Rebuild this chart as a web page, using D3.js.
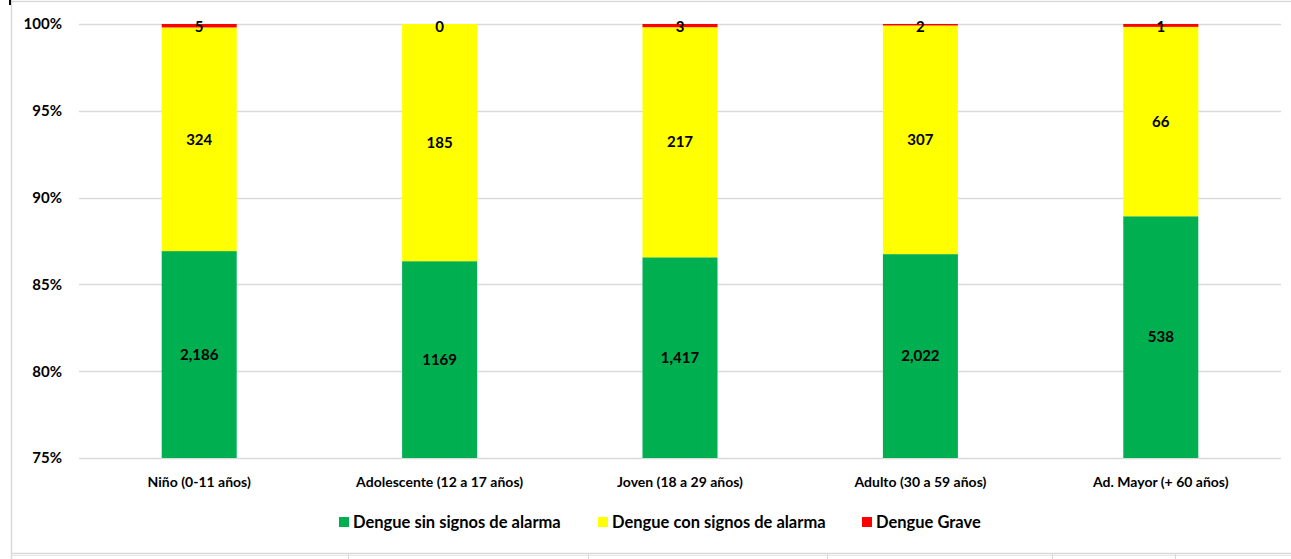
<!DOCTYPE html>
<html><head><meta charset="utf-8">
<script src="https://cdn.jsdelivr.net/npm/d3@7"></script>
<style>body{margin:0;background:#fff;} svg{display:block;} text{font-family:Lato,"Open Sans",sans-serif;}</style>
</head><body>
<script>
const categories = ["Niño (0-11 años)","Adolescente (12 a 17 años)","Joven (18 a 29 años)","Adulto (30 a 59 años)","Ad. Mayor (+ 60 años)"];
const sinSignos = [2186,1169,1417,2022,538];
const conSignos = [324,185,217,307,66];
const grave = [5,0,3,2,1];
const sinSignosLabels = ["2,186","1169","1,417","2,022","538"];
const seriesNames = ["Dengue sin signos de alarma","Dengue con signos de alarma","Dengue Grave"];
const colors = ["#00B050","#FFFF00","#FF0000"];
const yTicks = [0.75,0.80,0.85,0.90,0.95,1.00];

(function(){
const W=1291,H=559;
const svg=d3.select("body").append("svg").attr("width",W).attr("height",H);
svg.append("line").attr("x1",11).attr("x2",W).attr("y1",1.5).attr("y2",1.5).attr("stroke","#d9d9d9").attr("stroke-width",1.5);
svg.append("line").attr("x1",11.5).attr("x2",11.5).attr("y1",0).attr("y2",H).attr("stroke","#d9d9d9").attr("stroke-width",1.5);
svg.append("line").attr("x1",11).attr("x2",W).attr("y1",553.5).attr("y2",553.5).attr("stroke","#d9d9d9").attr("stroke-width",1.5);
svg.append("line").attr("x1",11).attr("x2",W).attr("y1",555.5).attr("y2",555.5).attr("stroke","#e6e6e6");
[348,588,827,1052,1175].forEach(x=>svg.append("line").attr("x1",x+0.5).attr("x2",x+0.5).attr("y1",554).attr("y2",H).attr("stroke","#d9d9d9"));
svg.append("rect").attr("x",9).attr("y",0).attr("width",2).attr("height",5).attr("fill","#000");

const pL=79,pR=1281,pT=24,pB=458;
const x=d3.scaleBand().domain(categories).range([pL,pR]).paddingInner(0.688).paddingOuter(0.344);
const y=d3.scaleLinear().domain([0.75,1]).range([pB,pT]);

svg.append("g").selectAll("line").data(yTicks).join("line")
 .attr("x1",pL).attr("x2",pR).attr("y1",d=>Math.round(y(d))+0.5).attr("y2",d=>Math.round(y(d))+0.5)
 .attr("stroke","#d9d9d9").attr("stroke-width",1.5);

const yAxis=d3.axisLeft(y).tickValues(yTicks).tickFormat(d3.format(".0%")).tickSize(0).tickPadding(0);
const ga=svg.append("g").attr("transform",`translate(62,0)`).call(yAxis);
ga.select(".domain").remove();
ga.selectAll("text").attr("font-size",15).attr("font-weight","bold").attr("fill","#000").attr("font-family","Lato,'Open Sans',sans-serif");

const rows=categories.map((c,i)=>{const t=sinSignos[i]+conSignos[i]+grave[i];return {c,i,vals:[sinSignos[i],conSignos[i],grave[i]],t};});
const labelFor=(s,r)=> s===0?sinSignosLabels[r.i]:d3.format(",")(r.vals[s]);
const gb=svg.append("g");
rows.forEach(r=>{
  let cum=0;
  r.vals.forEach((v,s)=>{
    const p0=cum/r.t; cum+=v; const p1=cum/r.t;
    const yb=y(Math.max(p0,0.75)), yt=y(p1);
    gb.append("rect").attr("x",x(r.c)).attr("width",x.bandwidth()).attr("y",yt).attr("height",Math.max(0,yb-yt)).attr("fill",colors[s]);
  });
});
rows.forEach(r=>{
  let cum=0;
  r.vals.forEach((v,s)=>{
    const p0=cum/r.t; cum+=v; const p1=cum/r.t;
    const yb=y(Math.max(p0,0.75)), yt=y(p1);
    let cy=(yb+yt)/2;
    if(s===2) cy=y(1)+3;
    gb.append("text").attr("x",x(r.c)+x.bandwidth()/2).attr("y",cy).attr("dy","0.35em")
     .attr("text-anchor","middle").attr("font-size",15).attr("font-weight","bold").attr("fill","#000").text(labelFor(s,r));
  });
});

svg.append("g").selectAll("text").data(categories).join("text")
 .attr("x",d=>x(d)+x.bandwidth()/2).attr("y",482).attr("dy","0.35em").attr("text-anchor","middle")
 .attr("font-size",14).attr("font-weight","bold").attr("fill","#000").text(d=>d);

const legX=[339,598,862];
const lg=svg.append("g");
seriesNames.forEach((n,i)=>{
  lg.append("rect").attr("x",legX[i]).attr("y",517).attr("width",10).attr("height",10).attr("fill",colors[i]);
  lg.append("text").attr("x",legX[i]+14).attr("y",522.5).attr("dy","0.35em").attr("font-size",16.5).attr("font-weight","bold").attr("fill","#000").text(n);
});
})();
</script>
</body></html>
